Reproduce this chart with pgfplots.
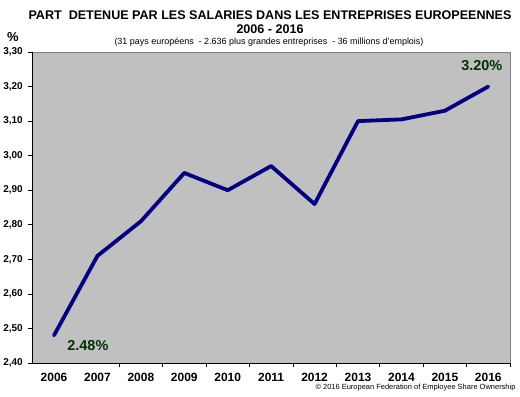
\documentclass[border=0pt]{standalone}
\usepackage{fontspec}
\setmainfont{Liberation Sans}
\usepackage{pgfplots}
\pgfplotsset{compat=1.18}
\definecolor{bgc}{HTML}{C0C0C0}
\definecolor{linec}{HTML}{000080}
\definecolor{lblc}{HTML}{003300}
\definecolor{framec}{HTML}{808080}
\begin{document}
\begin{tikzpicture}
\useasboundingbox (0bp,0bp) rectangle (520bp,397bp);
\begin{axis}[at={(32.3bp,34bp)}, anchor=south west, scale only axis,
  width=477.7bp, height=311bp,
  xmin=-0.5, xmax=10.5, ymin=2.4, ymax=3.3,
  axis background/.style={fill=bgc, draw=framec, line width=1pt},
  axis x line*=bottom, axis y line*=left,
  axis line style={-, black, line width=0.8pt},
  tick align=outside, major tick length=4bp,
  tick style={black, line width=0.6pt},
  ytick={2.4,2.5,2.6,2.7,2.8,2.9,3.0,3.1,3.2,3.3},
  yticklabel style={/pgf/number format/fixed, /pgf/number format/fixed zerofill, /pgf/number format/precision=2, /pgf/number format/use comma, /pgf/number format/assume math mode=true},
  yticklabel style={font=\fontsize{10}{12}\selectfont\bfseries, xshift=-2bp},
  xtick={0,1,2,3,4,5,6,7,8,9,10},
  xticklabels={2006,2007,2008,2009,2010,2011,2012,2013,2014,2015,2016},
  xtick style={draw=none},
  xticklabel style={font=\fontsize{12}{14}\selectfont\bfseries, yshift=-3bp},
  extra x ticks={1.5,2.5,3.5,4.5,5.5,6.5,7.5,8.5,9.5,10.5},
  extra x tick labels={},
  extra x tick style={xtick style={draw=black}},
  clip=false,
]
\addplot[linec, line width=3.8pt, line cap=round, line join=round] coordinates {
  (0,2.48) (1,2.71) (2,2.81) (3,2.95) (4,2.90) (5,2.97) (6,2.86) (7,3.10) (8,3.105) (9,3.13) (10,3.20)
};
\node[text=lblc, font=\fontsize{14.5}{16}\selectfont\bfseries] at (axis cs:0.78,2.451) {2.48\%};
\node[text=lblc, font=\fontsize{14.5}{16}\selectfont\bfseries] at (axis cs:9.85,3.26) {3.20\%};
\end{axis}
\node[font=\fontsize{12.6}{14}\selectfont\bfseries] at (270bp,382bp) {PART\ \ DETENUE PAR LES SALARIES DANS LES ENTREPRISES EUROPEENNES};
\node[font=\fontsize{12.6}{14}\selectfont\bfseries] at (270bp,367.5bp) {2006 - 2016};
\node[font=\fontsize{9}{10}\selectfont] at (269bp,355bp) {(31 pays européens\ \ - 2.636 plus grandes entreprises\ \ - 36 millions d'emplois)};
\node[font=\fontsize{13}{15}\selectfont\bfseries] at (13bp,360bp) {\%};
\node[font=\fontsize{7.5}{8}\selectfont, anchor=east] at (519bp,9bp) {© 2016 European Federation of Employee Share Ownership};
\end{tikzpicture}
\end{document}
